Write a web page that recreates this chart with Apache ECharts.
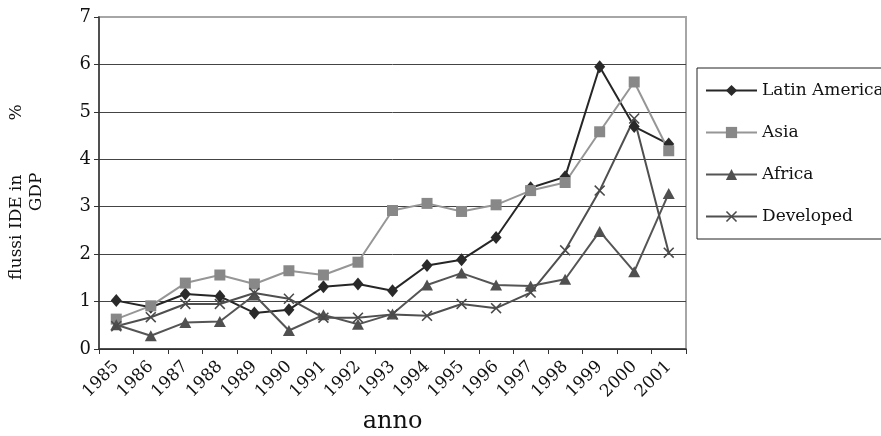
<!DOCTYPE html>
<html>
<head>
<meta charset="utf-8">
<script src="https://cdn.jsdelivr.net/npm/echarts@6/dist/echarts.min.js"></script>
<style>
html,body{margin:0;padding:0;background:#fff;}
#chart{width:881px;height:436px;}
</style>
</head>
<body>
<div id="chart"></div>
<script>
const years = ['1985','1986','1987','1988','1989','1990','1991','1992','1993','1994','1995','1996','1997','1998','1999','2000','2001'];
const latinAmerica = [1.02,0.88,1.16,1.11,0.76,0.83,1.31,1.37,1.23,1.76,1.88,2.35,3.40,3.63,5.95,4.69,4.32];
const asia = [0.63,0.91,1.39,1.56,1.37,1.65,1.56,1.83,2.92,3.07,2.90,3.04,3.34,3.51,4.58,5.63,4.18];
const africa = [0.51,0.28,0.56,0.58,1.14,0.39,0.72,0.52,0.74,1.35,1.60,1.35,1.33,1.47,2.48,1.63,3.28];
const developed = [0.48,0.67,0.95,0.95,1.18,1.06,0.66,0.66,0.73,0.70,0.95,0.86,1.19,2.08,3.34,4.86,2.03];
const seriesNames = ['Latin America','Asia','Africa','Developed'];
const yTicks = {min:0, max:7, interval:1};

const FONT = 'DejaVu Serif';
const xMark = 'path://M1,0 L5,4 L9,0 L10,1 L6,5 L10,9 L9,10 L5,6 L1,10 L0,9 L4,5 L0,1 Z';

const chart = echarts.init(document.getElementById('chart'), null, {renderer:'canvas'});
function mk(name, data, color, lineColor, symbol, size){
  return {
    name, type:'line', data, symbol, symbolSize:size,
    showAllSymbol:true,
    lineStyle:{color:lineColor, width:2},
    itemStyle:{color:color, borderWidth:0},
    emphasis:{disabled:true},
    animation:false
  };
}
chart.setOption({
  backgroundColor:'#fff',
  animation:false,
  grid:{left:99, right:195, top:17, bottom:87, containLabel:false, outerBoundsMode:'none',
        show:true, borderColor:'#a6a6a6', borderWidth:2, backgroundColor:'transparent'},
  legend:{
    orient:'vertical', left:697, top:68,
    data:seriesNames,
    itemWidth:51, itemHeight:14, itemGap:25,
    padding:[14,12,14,8],
    borderColor:'#222', borderWidth:1,
    textStyle:{fontFamily:FONT, fontSize:17, lineHeight:17, color:'#111'}
  },
  xAxis:{
    type:'category', data:years, boundaryGap:true,
    name:'anno', nameLocation:'middle', nameGap:61,
    nameTextStyle:{fontFamily:FONT, fontSize:24, color:'#111'},
    axisLine:{lineStyle:{color:'#333', width:1.5}},
    axisTick:{show:true, length:5, lineStyle:{color:'#333'}},
    axisLabel:{rotate:45, margin:15, fontFamily:FONT, fontSize:17, color:'#111', interval:0}
  },
  yAxis:{
    type:'value', min:yTicks.min, max:yTicks.max, interval:yTicks.interval,
    name:'flussi IDE in          %\nGDP', nameLocation:'middle', nameGap:52, nameRotate:90,
    nameTextStyle:{fontFamily:FONT, fontSize:17, color:'#111', lineHeight:20, align:'center', padding:[0,18,0,0]},
    axisLine:{show:true, lineStyle:{color:'#333', width:1.5}},
    axisTick:{show:true, length:5, lineStyle:{color:'#333'}},
    axisLabel:{margin:8, fontFamily:FONT, fontSize:18, color:'#111'},
    splitLine:{show:true, lineStyle:{color:['#333','#444','#444','#444','#444','#444','#444','#a6a6a6'], width:1}}
  },
  series:[
    mk('Latin America', latinAmerica, '#2a2a2a', '#262626', 'diamond', [11,13]),
    mk('Asia', asia, '#888888', '#969696', 'rect', 11),
    mk('Africa', africa, '#505050', '#555555', 'triangle', [12,11]),
    mk('Developed', developed, '#4a4a4a', '#4f4f4f', xMark, 11)
  ]
});
</script>
</body>
</html>
